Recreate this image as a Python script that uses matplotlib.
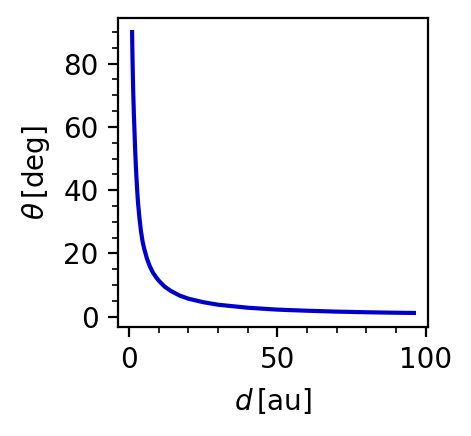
import matplotlib
matplotlib.use("Agg")
import matplotlib.pyplot as plt
from matplotlib.ticker import MultipleLocator

d_au = [1, 1.1, 1.2, 1.3, 1.4, 1.6, 1.8, 2, 2.25, 2.5, 2.75, 3, 3.5, 4, 4.5, 5,
        6, 7, 8, 9, 10, 12, 14, 17, 20, 25, 30, 40, 50, 60, 70, 80, 90, 96]
theta_deg = [90, 84, 79, 74.5, 70.5, 64, 59, 53.5, 48, 43.5, 39.5, 36, 31, 27,
             24, 21.8, 18.4, 15.9, 14.0, 12.6, 11.4, 9.5, 8.2, 6.7, 5.7, 4.6,
             3.8, 2.85, 2.25, 1.9, 1.62, 1.42, 1.27, 1.2]

plt.rcParams['font.size'] = 10
fig = plt.figure(figsize=(4.71 / 2, 4.36 / 2), dpi=200)
ax = fig.add_axes([118 / 471, 1 - 327 / 436, (428 - 118) / 471, (327 - 18) / 436])
ax.plot(d_au, theta_deg, color='mediumblue', lw=1.5)
ax.xaxis.set_major_locator(MultipleLocator(50))
ax.xaxis.set_minor_locator(MultipleLocator(10))
ax.yaxis.set_major_locator(MultipleLocator(20))
ax.yaxis.set_minor_locator(MultipleLocator(5))
ax.set_xlabel(r'$d\,$[au]')
ax.set_ylabel(r'$\theta\,$[deg]')
fig.savefig('out.png', dpi=200)
